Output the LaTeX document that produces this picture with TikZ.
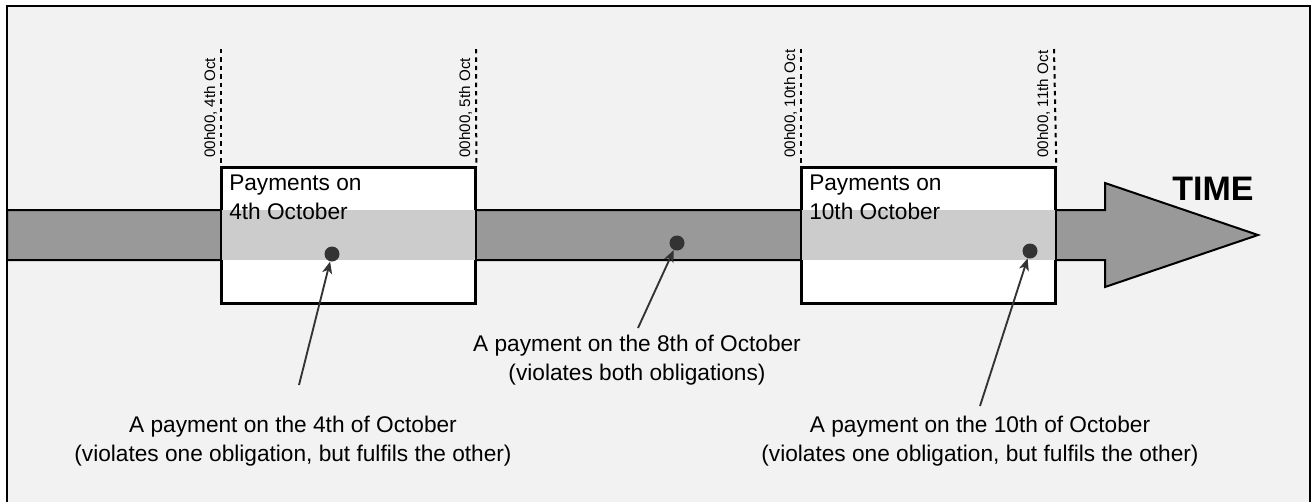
\documentclass[tikz,border=0pt]{standalone}
\usepackage{fontspec}
\setmainfont{Liberation Sans}
\usetikzlibrary{arrows.meta}
\definecolor{panelbg}{HTML}{F2F2F2}
\definecolor{bandgrey}{HTML}{999999}
\definecolor{bandlight}{HTML}{CCCCCC}
\definecolor{dotgrey}{HTML}{333333}

\begin{document}
\begin{tikzpicture}[x=0.75pt, y=-0.75pt, line join=miter,
  frame/.style={draw=black, fill=panelbg, line width=1.5pt},
  band/.style={draw=black, fill=bandgrey, line width=1.5pt},
  paybox/.style={draw=black, fill=white, line width=1.5pt, inner sep=0pt,
    anchor=north west, minimum width=190pt, minimum height=101.25pt},
  boxline/.style={draw=black, line width=1.5pt},
  boxtext/.style={anchor=north west, align=left, inner sep=0pt,
    font=\fontsize{17}{21.75}\selectfont},
  tick/.style={draw=black, line width=1.5pt, dash pattern=on 3.3pt off 3pt},
  ticklabel/.style={rotate=90, anchor=base west, inner sep=0pt,
    font=\fontsize{11.4}{13}\selectfont},
  dot/.style={circle, fill=dotgrey, inner sep=0pt, minimum size=11.25pt},
  pointer/.style={draw=dotgrey, line width=1.4pt,
    -{Stealth[length=9pt, width=7.5pt, inset=2.5pt]}},
  note/.style={anchor=north, align=center, inner sep=0pt,
    font=\fontsize{17}{21.3}\selectfont},
  timelabel/.style={anchor=base, inner sep=0pt,
    font=\bfseries\fontsize{25.5}{30}\selectfont}]

\useasboundingbox (0,0) rectangle (1311,501);
\clip (0,0) rectangle (1311,501);

% panel
\path[frame] (7,6) rectangle (1310,530);

% time arrow
\coordinate (bandtop) at (0,210);
\coordinate (bandbot) at (0,260);
\path[band] (7,210) -- (1105,210) -- (1105,183) -- (1258,235)
  -- (1105,287) -- (1105,260) -- (7,260) -- cycle;
\node[timelabel] (timelbl) at (1213,200) {TIME};

% payment windows
\node[paybox] (box1) at (221,167) {};
\node[paybox] (box2) at (801,167) {};
\fill[bandlight] (box1.west |- bandtop) rectangle (box1.east |- bandbot);
\fill[bandlight] (box2.west |- bandtop) rectangle (box2.east |- bandbot);
\draw[boxline] (box1.north west) rectangle (box1.south east);
\draw[boxline] (box2.north west) rectangle (box2.south east);
\node[boxtext] (lbl1) at (229,175) {Payments on\\4th October};
\node[boxtext] (lbl2) at (809,175) {Payments on\\10th October};

% midnight markers
\coordinate (m1) at (221,49);
\coordinate (m2) at (476,49);
\coordinate (m3) at (801,49);
\coordinate (m4) at (1054,49);
\draw[tick] (m1) -- (box1.north west);
\draw[tick] (m2) -- (box1.north east);
\draw[tick] (m3) -- (box2.north west);
\draw[tick] (m4) -- (box2.north east);
\node[ticklabel] (c1) at (215,158) {00h00, 4th Oct};
\node[ticklabel] (c2) at (470,158) {00h00, 5th Oct};
\node[ticklabel] (c3) at (795,158) {00h00, 10th Oct};
\node[ticklabel] (c4) at (1048,158) {00h00, 11th Oct};

% payments
\node[dot] (p1) at (332,254) {};
\node[dot] (p2) at (677,243) {};
\node[dot] (p3) at (1030,251) {};

\coordinate (s1) at (299,385);
\coordinate (s2) at (638,328);
\coordinate (s3) at (980,406);
\draw[pointer] (s1) -- (p1);
\draw[pointer] (s2) -- (p2);
\draw[pointer] (s3) -- (p3);

\node[note] (n1) at (293,416)
  {A payment on the 4th of October\\(violates one obligation, but fulfils the other)};
\node[note] (n2) at (637,335)
  {A payment on the 8th of October\\(violates both obligations)};
\node[note] (n3) at (980,416)
  {A payment on the 10th of October\\(violates one obligation, but fulfils the other)};
\end{tikzpicture}
\end{document}
